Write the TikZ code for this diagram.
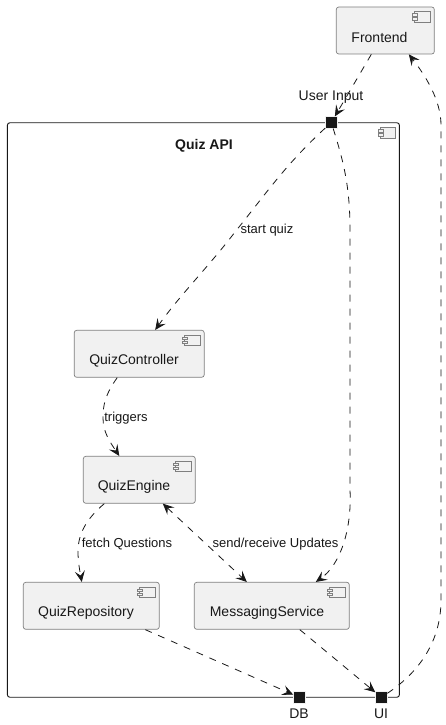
\documentclass[tikz,border=0pt]{standalone}
\usepackage{fontspec}
\setmainfont{Liberation Sans}
\usetikzlibrary{arrows.meta}
\definecolor{umlInk}{HTML}{181818}
\definecolor{umlFill}{HTML}{F1F1F1}
\definecolor{umlEdge}{HTML}{7F7F7F}
\tikzset{
    compIcon/.pic={
        \draw[draw=umlEdge, line width=0.6pt, fill=umlFill] (-20,5) rectangle (-4.5,15.5);
        \draw[draw=umlEdge, line width=0.6pt, fill=umlFill] (-22,7) rectangle (-17,9.5);
        \draw[draw=umlEdge, line width=0.6pt, fill=umlFill] (-22,11) rectangle (-17,13.5);
    }
}
\begin{document}
\begin{tikzpicture}[
    x=1pt, y=-1pt,
    compBox/.style={draw=umlEdge, line width=0.7pt, rectangle, rounded corners=2.5pt, fill=umlFill, minimum height=47pt, inner sep=0pt},
    compText/.style={font=\fontsize{14}{16}\selectfont, text=umlInk, inner sep=0pt},
    apiFrame/.style={draw=umlInk, line width=0.9pt, rectangle, rounded corners=2.5pt, fill=white, minimum width=392pt, minimum height=574.5pt, inner sep=0pt},
    portBox/.style={draw=umlFill, line width=0.6pt, fill=umlInk, rectangle, minimum size=11.5pt, inner sep=0pt},
    portText/.style={font=\fontsize{14}{16}\selectfont, text=umlInk, inner sep=0pt},
    edgeText/.style={font=\fontsize{13}{15}\selectfont, text=umlInk, inner sep=0pt},
    depArrow/.style={draw=umlInk, line width=0.8pt, dash pattern=on 7pt off 7pt, -{Stealth[length=11pt, width=10pt, inset=4.5pt]}},
    depBoth/.style={depArrow, {Stealth[length=11pt, width=10pt, inset=4.5pt]}-{Stealth[length=11pt, width=10pt, inset=4.5pt]}},
]
\useasboundingbox (0,0) rectangle (446,725);
% frame
\node[apiFrame] (quizApi) at (203.4,410) {};
\pic at (quizApi.north east) {compIcon};
\node[compText, font=\fontsize{14}{16}\selectfont\bfseries] (quizApiText) at (204,146) {Quiz API};
% components
\node[compBox, minimum width=98pt] (frontend) at (385.3,30.5) {};
\pic at (frontend.north east) {compIcon};
\node[compText] (frontendText) at (379.5,37) {Frontend};
\node[compBox, minimum width=130pt] (quizController) at (139.2,353.8) {};
\pic at (quizController.north east) {compIcon};
\node[compText] (quizControllerText) at (134,360.5) {QuizController};
\node[compBox, minimum width=112pt] (quizEngine) at (139.3,479.8) {};
\pic at (quizEngine.north east) {compIcon};
\node[compText] (quizEngineText) at (134,486.5) {QuizEngine};
\node[compBox, minimum width=136pt] (quizRepository) at (91.3,605.8) {};
\pic at (quizRepository.north east) {compIcon};
\node[compText] (quizRepositoryText) at (86,612.5) {QuizRepository};
\node[compBox, minimum width=155pt] (messagingService) at (271.8,605.8) {};
\pic at (messagingService.north east) {compIcon};
\node[compText] (messagingServiceText) at (267,612.5) {MessagingService};
% ports
\node[portBox] (userInput) at (331.3,122.5) {};
\node[portText] (userInputText) at (331,97) {User Input};
\node[portBox] (dbPort) at (299.3,697.3) {};
\node[portText] (dbPortText) at (299,714) {DB};
\node[portBox] (uiPort) at (381.3,697.3) {};
\node[portText] (uiPortText) at (381,714) {UI};
% connectors
\draw[depArrow] ([xshift=-14pt]frontend.south) -- (userInput);
\draw[depArrow] (userInput) .. controls (285,165) and (265,195) .. (235,232) .. controls (210,265) and (180,295) .. ([xshift=16pt]quizController.north);
\node[edgeText] (startQuiz) at (267,230.5) {start quiz};
\draw[depArrow] (userInput) .. controls (343,160) and (350,185) .. (350,230) -- (350,490) .. controls (352,530) and (340,565) .. ([xshift=44pt]messagingService.north);
\draw[depArrow] ([xshift=-22pt]quizController.south) .. controls (105,395) and (103,405) .. (103,418) .. controls (103,432) and (110,442) .. ([xshift=-20pt]quizEngine.north);
\node[edgeText] (triggers) at (126,418.5) {triggers};
\draw[depArrow] ([xshift=-35pt]quizEngine.south) .. controls (85,520) and (78,535) .. (78,552) .. controls (78,562) and (80,572) .. ([xshift=-9.5pt]quizRepository.north);
\node[edgeText] (fetchQuestions) at (127,544.5) {fetch Questions};
\draw[depBoth] ([xshift=23.5pt]quizEngine.south) -- ([xshift=-25pt]messagingService.north);
\node[edgeText] (sendReceive) at (275.5,544.5) {send/receive Updates};
\draw[depArrow] ([xshift=54pt]quizRepository.south) -- (dbPort);
\draw[depArrow] ([xshift=28pt]messagingService.south) -- (uiPort);
\draw[depArrow] (uiPort) .. controls (415,675) and (441,645) .. (441,600) -- (441,125) .. controls (441,100) and (425,75) .. ([xshift=23.5pt]frontend.south);
\end{tikzpicture}
\end{document}
